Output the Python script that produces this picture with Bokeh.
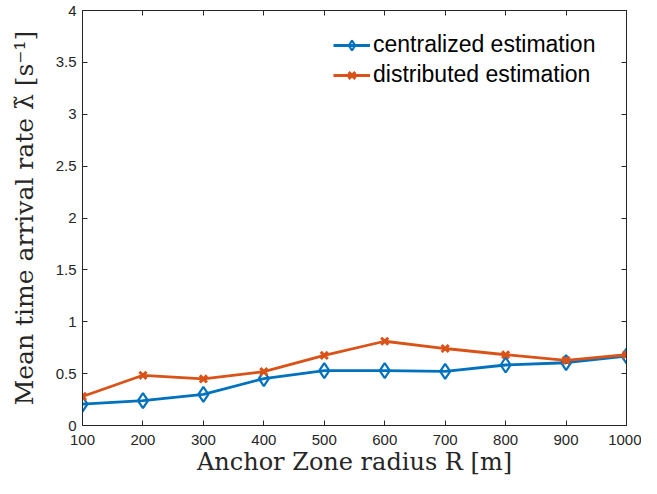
from bokeh.plotting import figure
from bokeh.models import Range1d, LinearAxis, FixedTicker, Legend, LegendItem, CustomJSTickFormatter
from bokeh.embed import file_html
from bokeh.resources import INLINE

radius = [100, 200, 300, 400, 500, 600, 700, 800, 900, 1000]
centralized = [0.207, 0.239, 0.30, 0.452, 0.529, 0.529, 0.522, 0.583, 0.605, 0.67]
distributed = [0.28, 0.484, 0.449, 0.519, 0.675, 0.812, 0.742, 0.682, 0.627, 0.682]
x_ticks = [100, 200, 300, 400, 500, 600, 700, 800, 900, 1000]
y_ticks = [0, 0.5, 1, 1.5, 2, 2.5, 3, 3.5, 4]

BLUE = "#0072BD"
ORANGE = "#D95319"
AX = "#262626"

p = figure(width=641, height=478, output_backend="svg", toolbar_location=None,
           x_range=Range1d(100, 1000), y_range=Range1d(0, 4),
           x_axis_location=None, y_axis_location=None,
           min_border_left=82, min_border_right=15, min_border_top=10, min_border_bottom=52)
p.grid.visible = False
p.outline_line_color = AX
p.outline_line_width = 1

def style_axis(ax):
    ax.axis_line_color = AX
    ax.major_tick_line_color = AX
    ax.major_tick_in = 5
    ax.major_tick_out = 0
    ax.minor_tick_line_color = None
    ax.major_label_text_font = "Liberation Sans"
    ax.major_label_text_font_size = "15px"
    ax.major_label_text_color = AX

bottom = LinearAxis(ticker=FixedTicker(ticks=x_ticks))
left = LinearAxis(ticker=FixedTicker(ticks=y_ticks))
style_axis(bottom)
style_axis(left)
bottom.major_label_standoff = 9
left.major_label_standoff = 6
bottom.axis_label = "Anchor Zone radius R [m]"
left.axis_label = "Mean time arrival rate λ̃ [s⁻¹]"
for ax in (bottom, left):
    ax.axis_label_text_font = "DejaVu Serif"
    ax.axis_label_text_font_style = "normal"
    ax.axis_label_text_color = AX
bottom.axis_label_text_font_size = "24px"
left.axis_label_text_font_size = "25px"
bottom.axis_label_standoff = 0
left.axis_label_standoff = 14
p.add_layout(bottom, "below")
p.add_layout(left, "left")

top = LinearAxis(ticker=FixedTicker(ticks=x_ticks), formatter=CustomJSTickFormatter(code="return ''"))
right = LinearAxis(ticker=FixedTicker(ticks=y_ticks), formatter=CustomJSTickFormatter(code="return ''"))
for ax in (top, right):
    style_axis(ax)
    ax.major_label_standoff = 0
    ax.major_label_text_font_size = "1px"
p.add_layout(top, "above")
p.add_layout(right, "right")

l1 = p.line(radius, centralized, line_color=BLUE, line_width=2.8)
m1 = p.scatter(radius, centralized, marker="diamond", size=15, line_color=BLUE,
               fill_color=None, line_width=2.2)
l2 = p.line(radius, distributed, line_color=ORANGE, line_width=2.8)
m2 = p.scatter(radius, distributed, marker="x", size=10, line_color=ORANGE, line_width=3)

legend = Legend(items=[LegendItem(label="centralized estimation", renderers=[l1, m1]),
                       LegendItem(label="distributed estimation", renderers=[l2, m2])],
                location=(251, 337))
legend.border_line_color = None
legend.background_fill_alpha = 0
legend.label_text_font = "Liberation Sans"
legend.label_text_font_size = "23px"
legend.label_text_color = "#000000"
legend.glyph_width = 37
legend.glyph_height = 24
legend.label_standoff = 3
legend.spacing = 3
legend.margin = 0
legend.padding = 6
p.add_layout(legend)

open("out.html", "w").write(file_html(p, INLINE))
